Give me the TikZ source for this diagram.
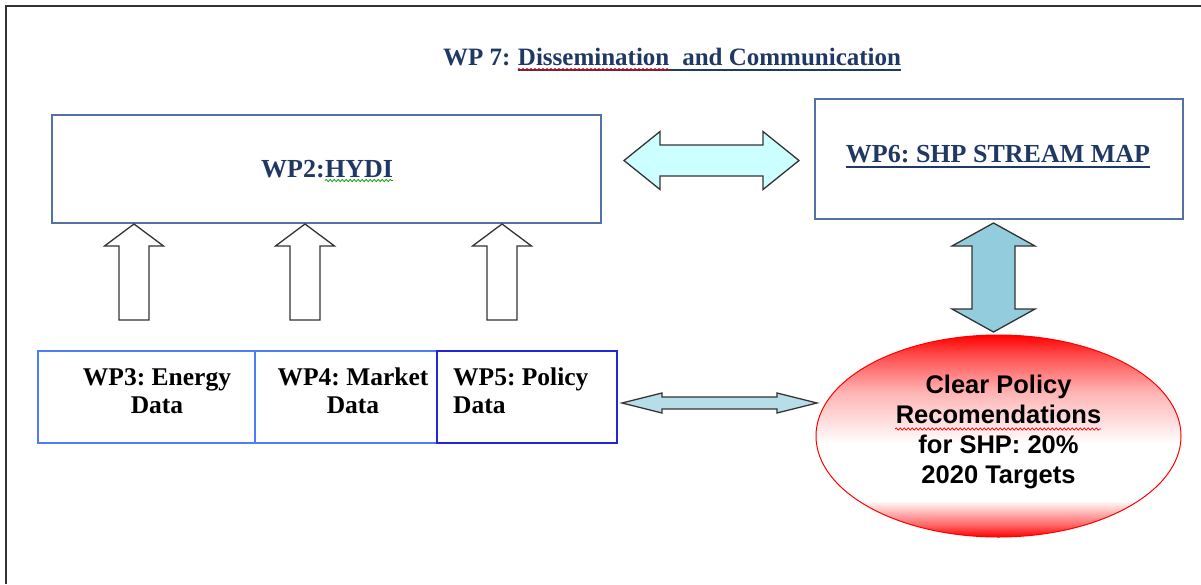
\documentclass[tikz,border=0pt]{standalone}
\usepackage{fontspec}
\setmainfont{Liberation Serif}
\newfontfamily\arialfont{Liberation Sans}
\usetikzlibrary{shapes.geometric,decorations.pathmorphing,calc}
\frenchspacing
\definecolor{navy}{HTML}{1F3864}
\definecolor{steelbox}{HTML}{5272A6}
\definecolor{lightboxblue}{HTML}{4F7CFF}
\definecolor{darkboxblue}{HTML}{2424D8}
\definecolor{cyanlt}{HTML}{CCFFFF}
\definecolor{bluemid}{HTML}{93CDDD}
\definecolor{bluelt}{HTML}{B7DDE8}
\definecolor{arrowline}{HTML}{333333}
\pgfdeclareverticalshading{goalshade}{100bp}{color(0bp)=(red); color(25bp)=(red); color(28bp)=(red!60!white); color(34bp)=(white); color(48bp)=(white); color(61bp)=(red!30!white); color(70bp)=(red!70!white); color(75bp)=(red); color(100bp)=(red)}
\newcommand\hdbl[7]{%
  \draw[blockarrow, fill=#7] (#1,#3) -- (#1+#4,#3-#5) -- (#1+#4,#3-#6) -- (#2-#4,#3-#6) -- (#2-#4,#3-#5) -- (#2,#3) -- (#2-#4,#3+#5) -- (#2-#4,#3+#6) -- (#1+#4,#3+#6) -- (#1+#4,#3+#5) -- cycle;}
\newcommand\vdbl[7]{%
  \draw[blockarrow, fill=#7] (#1,#2) -- (#1+#5,#2+#4) -- (#1+#6,#2+#4) -- (#1+#6,#3-#4) -- (#1+#5,#3-#4) -- (#1,#3) -- (#1-#5,#3-#4) -- (#1-#6,#3-#4) -- (#1-#6,#2+#4) -- (#1-#5,#2+#4) -- cycle;}
\begin{document}
\begin{tikzpicture}[x=1pt,y=-1pt,
  blockarrow/.style={draw=arrowline, line width=1.3pt, line join=miter},
  ttl/.style={font=\bfseries\fontsize{25}{30}\selectfont, text=navy, inner sep=0pt},
  boxttl/.style={font=\bfseries\fontsize{26}{30}\selectfont, text=navy, inner sep=0pt},
  wpbox/.style={draw=lightboxblue, line width=1.2pt, minimum height=92pt, inner sep=0pt},
  wptxt/.style={font=\bfseries\fontsize{25.5}{28}\selectfont, text=black, inner sep=0pt},
  bigbox/.style={draw=steelbox, line width=1.5pt, inner sep=0pt},
  goaltxt/.style={font=\arialfont\bfseries\fontsize{25.5}{30}\selectfont, align=center, text=black, inner sep=0pt},
  wavy/.style={decorate, decoration={snake, amplitude=1.1pt, segment length=4pt}, line width=0.7pt}
]
\useasboundingbox (0,0) rectangle (1201,584);
\fill[white] (0,0) rectangle (1201,584);
% frame
\draw[line width=2pt, black!80] (6,584) -- (6,6) -- (1201,6);

% title
\node[ttl, anchor=base west] (t1) at (443,65) {WP 7:\kern0.28em};
\node[ttl, anchor=base west] (t2) at (t1.base east) {Dissemination};
\node[ttl, anchor=base west] (t3) at (t2.base east) {\kern0.5em and Communication};
\draw[navy, line width=2pt] ($(t2.base west)+(0,4.5)$) -- ($(t3.base east)+(0,4.5)$);
\draw[red, wavy] ($(t2.base west)+(0,4.5)$) -- ($(t2.base east)+(0,4.5)$);

% HYDI box
\node[bigbox, minimum width=549pt, minimum height=108pt] (hydi) at (326.5,169) {};
\node[boxttl, anchor=base west] (h1) at (261,177) {WP2:};
\node[boxttl, anchor=base west] (h2) at (h1.base east) {HYDI};
\draw[green!60!black, wavy] ($(h2.base west)+(0,3.5)$) -- ($(h2.base east)+(0,3.5)$);

% WP6 box
\node[bigbox, minimum width=368pt, minimum height=120pt] (wp6) at (999,159) {};
\node[boxttl, anchor=base] (w6t) at (998,162) {WP6: SHP STREAM MAP};
\draw[navy, line width=2.2pt] ($(w6t.base west)+(0,5)$) -- ($(w6t.base east)+(0,5)$);

% up arrows
\foreach \cx in {134,305,502} {
  \draw[blockarrow, fill=white] (\cx-15,320) -- (\cx+15,320) -- (\cx+15,246) -- (\cx+29.5,246) -- (\cx,224) -- (\cx-29.5,246) -- (\cx-15,246) -- cycle;
}

% lower boxes
\node[wpbox, minimum width=217pt] (wp3) at (146.5,397) {};
\node[wpbox, minimum width=182pt] (wp4) at (346,397) {};
\node[wpbox, draw=darkboxblue, minimum width=180pt] (wp5) at (527,397) {};
\node[wptxt, align=center] (wp3t) at (157,391) {WP3: Energy\\Data};
\node[wptxt, align=center] (wp4t) at (353,391) {WP4: Market\\Data};
\node[wptxt, align=left, anchor=west] (wp5t) at (453,391) {WP5: Policy\\Data};

% goal ellipse
\node[ellipse, draw=red, line width=1pt, minimum width=365pt, minimum height=202pt,
      shading=goalshade, inner sep=0pt] (goal) at (998.5,436) {};
\node[goaltxt] (gtxt) at (998.5,432) {Clear Policy\\Recomendations\\for SHP: 20\%\\2020 Targets};
\draw[red, wavy] (895,429) -- (1101,429);

% double arrows
\hdbl{624}{799}{160.5}{36}{29}{15.5}{cyanlt}
\vdbl{993.5}{223}{332}{23}{41.5}{21.5}{bluemid}
\hdbl{622}{817}{403}{40}{10}{6}{bluelt}
\end{tikzpicture}
\end{document}
